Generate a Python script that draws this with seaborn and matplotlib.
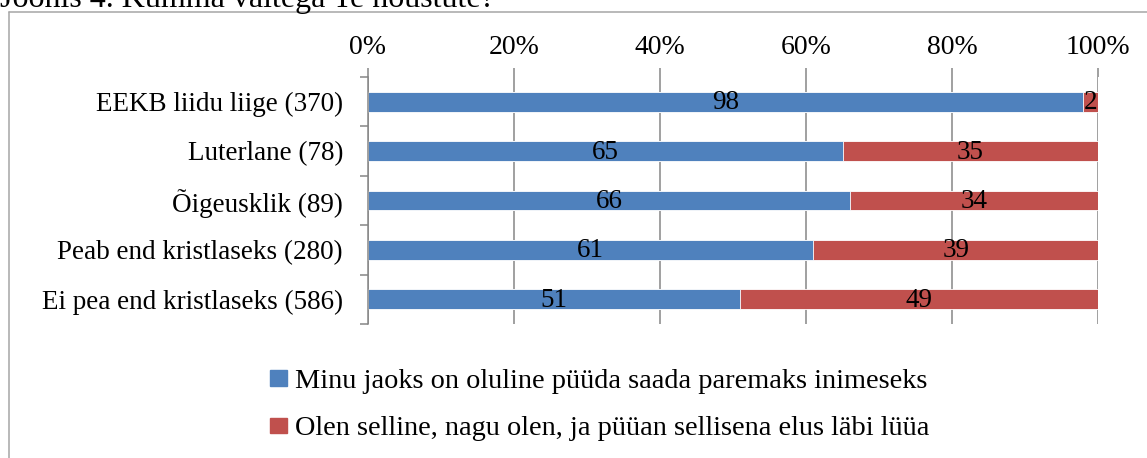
import pandas as pd
import matplotlib.pyplot as plt
import matplotlib.patches as mpatches
from matplotlib.lines import Line2D
import seaborn as sns

# Data
groups = ['EEKB liidu liige (370)', 'Luterlane (78)', 'Õigeusklik (89)',
          'Peab end kristlaseks (280)', 'Ei pea end kristlaseks (586)']
paremaks = [98, 65, 66, 61, 51]
selline = [2, 35, 34, 39, 49]
series_names = ['Minu jaoks on oluline püüda saada paremaks inimeseks',
                'Olen selline, nagu olen, ja püüan sellisena elus läbi lüüa']
tick_vals = [0, 20, 40, 60, 80, 100]
tick_labels = ['0%', '20%', '40%', '60%', '80%', '100%']
title = 'Joonis 4. Kumma väitega Te nõustute?'

BLUE = '#4F81BD'
RED = '#C0504D'
GRID = '#868686'
FRAME = '#A6A6A6'

sns.set_style('white')
plt.rcParams['font.family'] = ['Liberation Serif', 'DejaVu Serif']
plt.rcParams['text.color'] = 'black'
plt.rcParams['xtick.color'] = 'black'
plt.rcParams['ytick.color'] = 'black'

df = pd.DataFrame({'group': groups, 'paremaks': paremaks, 'selline': selline})
df['total'] = df['paremaks'] + df['selline']

W, H = 1147, 458
fig = plt.figure(figsize=(W / 100, H / 100), dpi=100)
fig.patch.set_facecolor('white')
ax = fig.add_axes([368 / W, 1 - 324 / H, (1098 - 368) / W, (324 - 77) / H])

# stacked bars: full-length red bar underneath, blue share on top
sns.barplot(data=df, y='group', x='total', color=RED, width=0.4, orient='h',
            saturation=1, ax=ax, edgecolor='white', linewidth=0.6)
sns.barplot(data=df, y='group', x='paremaks', color=BLUE, width=0.4, orient='h',
            saturation=1, ax=ax, edgecolor='white', linewidth=0.6)

red_bars = ax.containers[0]
blue_bars = ax.containers[1]
for rb, bb, b, r in zip(red_bars, blue_bars, df['paremaks'], df['selline']):
    yc = bb.get_y() + bb.get_height() / 2 + 0.02
    ax.text(bb.get_width() / 2, yc, f'{b}', ha='center', va='center',
            fontsize=19.5, color='black')
    ax.text((bb.get_width() + rb.get_width()) / 2, yc, f'{r}', ha='center',
            va='center', fontsize=19.5, color='black')

ax.set_xlim(0, 100)
ax.set_ylim(4.5, -0.5)
ax.set_xlabel('')
ax.set_ylabel('')
ax.xaxis.tick_top()
ax.set_xticks(tick_vals)
ax.set_xticklabels(tick_labels)
ax.tick_params(axis='x', which='major', length=6.5, width=1.1, color=GRID,
               labelcolor='black', pad=6, labelsize=20, top=True, bottom=False)
ax.xaxis.grid(True, color=GRID, linewidth=1.1)
ax.set_axisbelow(True)

ax.set_yticks(range(len(groups)))
ax.set_yticklabels(groups)
ax.set_yticks([i - 0.5 for i in range(len(groups) + 1)], minor=True)
ax.tick_params(axis='y', which='major', length=0, pad=18, labelsize=19.5,
               labelcolor='black')
ax.tick_params(axis='y', which='minor', length=6, width=1.1, color=GRID, left=True)

for s in ['top', 'right', 'bottom']:
    ax.spines[s].set_visible(False)
ax.spines['left'].set_color(GRID)
ax.spines['left'].set_linewidth(1.1)

# Legend
handles = [mpatches.Patch(color=BLUE, label=series_names[0]),
           mpatches.Patch(color=RED, label=series_names[1])]
fig.legend(handles=handles, loc='upper left',
           bbox_to_anchor=(256 / W, 1 - 355 / H), frameon=False,
           fontsize=20.4, handlelength=0.58, handleheight=0.45,
           handletextpad=0.3, labelspacing=0.78, borderpad=0)

# Chart frame (cropped) and title
fig.add_artist(Line2D([9 / W, 9 / W], [1 - 12 / H, -0.1], color=FRAME, lw=1.1))
fig.add_artist(Line2D([9 / W, 1.1], [1 - 12 / H, 1 - 12 / H], color=FRAME, lw=1.1))
fig.text(0, 1 - 7 / H, title, fontsize=23, ha='left', va='baseline')

fig.savefig('out.png', dpi=100, facecolor='white')
